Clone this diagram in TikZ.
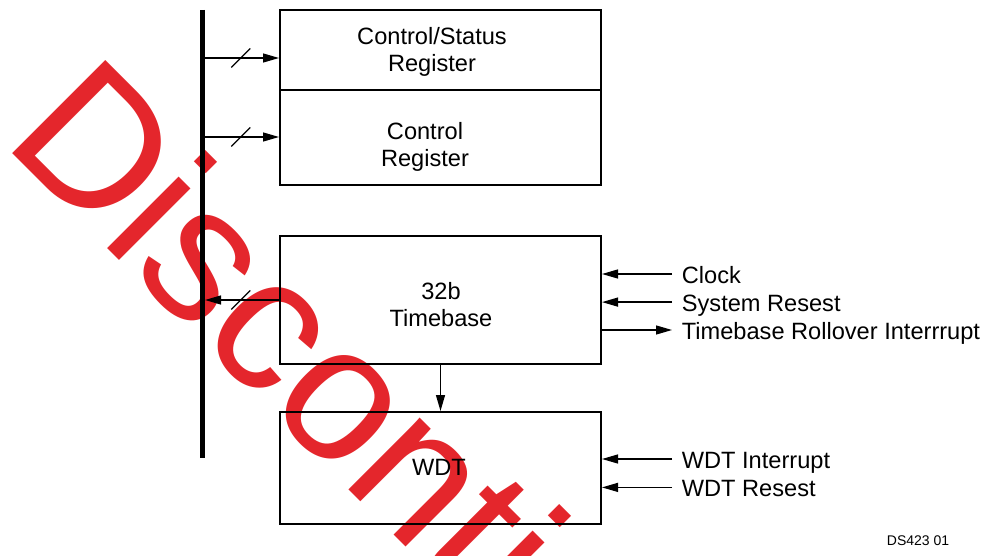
\documentclass[tikz,border=0pt]{standalone}
\usepackage{fontspec}
\setmainfont{Liberation Sans}
\usetikzlibrary{arrows.meta}
\definecolor{stampred}{RGB}{228,38,44}

\begin{document}
\begin{tikzpicture}[x=1pt, y=-1pt,
    box/.style={draw, line width=2pt, minimum width=321pt, inner sep=0pt},
    lbl/.style={font=\fontsize{23.6}{27.5}\selectfont, align=center, inner sep=0pt},
    sig/.style={-{Triangle[length=16pt,width=9pt]}, line width=1.3pt},
    buswidth/.style={line width=1.3pt}]

    \useasboundingbox (0,0) rectangle (987,556);

    %% Watermark
    \node[anchor=base west, rotate=-45, inner sep=0pt, text=stampred,
          font=\fontsize{191.5}{200}\selectfont] (stamp) at (1,142) {Discontinued};

    % Bus
    \coordinate (bustop) at (202.5,10);
    \coordinate (busbot) at (202.5,458);
    \draw[line width=5pt] (bustop) -- (busbot);

    % Register boxes
    \node[box, minimum height=80pt] (csr) at (440.5,50) {};
    \node[box, minimum height=95pt] (cr) at (440.5,137.5) {};
    \node[lbl, anchor=base] (csrtxt) at (432,71.7) {Control/Status\\Register};
    \node[lbl, anchor=base] (crtxt) at (425,166.7) {Control\\Register};

    % Timebase and watchdog
    \node[box, minimum height=128pt] (tb) at (440.5,300) {};
    \node[box, minimum height=112pt] (wdt) at (440.5,468) {};
    \node[lbl, anchor=base] (tbtxt) at (441,326.7) {32b\\Timebase};
    \node[lbl, anchor=base] (wdttxt) at (439,475) {WDT};

    % Bus to registers
    \coordinate (csrin) at ([yshift=-8pt]csr.west);
    \coordinate (crin) at ([yshift=0.5pt]cr.west);
    \draw[sig] (csrin -| bustop) -- (csrin) coordinate[midway] (csrmid);
    \draw[sig] (crin -| bustop) -- (crin) coordinate[midway] (crmid);
    \draw[buswidth] ([shift={(-9.5,9.5)}]csrmid) -- ([shift={(9.5,-9.5)}]csrmid);
    \draw[buswidth] ([shift={(-9.5,9.5)}]crmid) -- ([shift={(9.5,-9.5)}]crmid);

    % Timebase to bus
    \draw[sig, shorten >=2.5pt] (tb.west) -- (tb.west -| bustop) coordinate[midway] (tbmid);
    \draw[buswidth] ([shift={(-9.5,9.5)}]tbmid) -- ([shift={(9.5,-9.5)}]tbmid);

    % Timebase to WDT
    \draw[sig] (tb.south) -- (wdt.north);

    % Timebase signals
    \node[lbl, anchor=base west] (clk) at (681.7,283.3) {Clock};
    \node[lbl, anchor=base west] (rst) at (681.7,311.7) {System Resest};
    \node[lbl, anchor=base west] (roll) at (681.7,339.3) {Timebase Rollover Interrrupt};
    \path ([xshift=-9.7pt,yshift=9.3pt]clk.base west) coordinate (clkin);
    \path ([xshift=-9.7pt,yshift=9.6pt]rst.base west) coordinate (rstin);
    \path ([xshift=-9.7pt,yshift=9.3pt]roll.base west) coordinate (rollout);
    \draw[sig] (clkin) -- (clkin -| tb.east);
    \draw[sig] (rstin) -- (rstin -| tb.east);
    \draw[sig] (rollout -| tb.east) -- (rollout);

    % WDT signals
    \node[lbl, anchor=base west] (wint) at (681.7,468.3) {WDT Interrupt};
    \node[lbl, anchor=base west] (wrst) at (681.7,496.7) {WDT Resest};
    \path ([xshift=-9.7pt,yshift=9.3pt]wint.base west) coordinate (wintin);
    \path ([xshift=-9.7pt,yshift=9.3pt]wrst.base west) coordinate (wrstin);
    \draw[sig] (wintin) -- (wintin -| wdt.east);
    \draw[sig] (wrstin) -- (wrstin -| wdt.east);

    % Figure number
    \node[anchor=base west, inner sep=0pt, font=\fontsize{14}{16}\selectfont] (figid) at (886.7,545) {DS423 01};

\end{tikzpicture}
\end{document}
